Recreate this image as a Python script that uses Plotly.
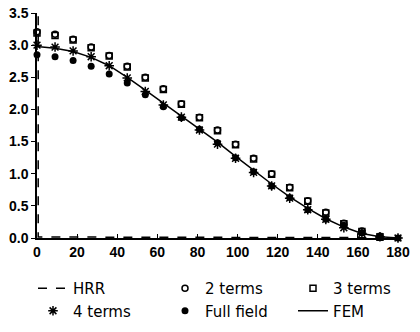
import plotly.graph_objects as go

# ---- data ----
angles = [0, 9, 18, 27, 36, 45, 54, 63, 72, 81, 90, 99, 108, 117, 126, 135, 144, 153, 162, 171, 180]

full_field = [2.85, 2.82, 2.76, 2.67, 2.55, 2.41, 2.23, 2.04, 1.87, 1.69, 1.48, 1.25,
              1.03, 0.81, 0.63, 0.44, 0.29, 0.20, 0.08, 0.03, 0.00]
fem = [2.98, 2.95, 2.90, 2.81, 2.68, 2.50, 2.30, 2.10, 1.90, 1.70, 1.49, 1.27,
       1.05, 0.84, 0.64, 0.46, 0.30, 0.17, 0.07, 0.02, 0.00]
four_terms = [3.00, 2.97, 2.91, 2.82, 2.68, 2.49, 2.28, 2.07, 1.88, 1.68, 1.46, 1.24,
              1.02, 0.81, 0.62, 0.44, 0.29, 0.16, 0.07, 0.02, 0.00]

open_angles = angles[:-1]
two_terms = [3.21, 3.17, 3.09, 2.97, 2.84, 2.67, 2.50, 2.32, 2.09, 1.88, 1.68, 1.46,
             1.24, 1.00, 0.79, 0.58, 0.40, 0.23, 0.11, 0.01]
three_terms = [3.19, 3.15, 3.08, 2.96, 2.83, 2.66, 2.49, 2.31, 2.08, 1.87, 1.67, 1.45,
               1.23, 0.99, 0.78, 0.57, 0.39, 0.22, 0.10, 0.01]

hrr_x = [0.6, 0.6, 10, 170]
hrr_y = [3.45, 0.015, 0.015, 0.005]

x_ticks = [0, 20, 40, 60, 80, 100, 120, 140, 160, 180]
y_ticks = [0.0, 0.5, 1.0, 1.5, 2.0, 2.5, 3.0, 3.5]
y_tick_text = ["0.0", "0.5", "1.0", "1.5", "2.0", "2.5", "3.0", "3.5"]

fig = go.Figure()
fig.add_trace(go.Scatter(x=hrr_x, y=hrr_y, mode="lines", name="HRR", legend="legend",
                         legendgroup="a", line=dict(color="black", width=1.5, dash="dash"),
                         cliponaxis=False))
fig.add_trace(go.Scatter(x=open_angles, y=two_terms, mode="markers", name="2 terms", legend="legend2",
                         legendgroup="b",
                         marker=dict(symbol="circle-open", size=6, color="black", line=dict(width=1.5)),
                         cliponaxis=False))
fig.add_trace(go.Scatter(x=open_angles, y=three_terms, mode="markers", name="3 terms", legend="legend3",
                         legendgroup="c",
                         marker=dict(symbol="square-open", size=6, color="black", line=dict(width=1.5)),
                         cliponaxis=False))
fig.add_trace(go.Scatter(x=angles, y=four_terms, mode="markers", name="4 terms", legend="legend",
                         legendgroup="d",
                         marker=dict(symbol="asterisk-open", size=8, color="black",
                                     line=dict(width=1.5, color="black")),
                         cliponaxis=False))
fig.add_trace(go.Scatter(x=angles, y=full_field, mode="markers", name="Full field", legend="legend2",
                         legendgroup="e",
                         marker=dict(symbol="circle", size=7, color="black"), cliponaxis=False))
fig.add_trace(go.Scatter(x=angles, y=fem, mode="lines", name="FEM", legend="legend3",
                         legendgroup="f",
                         line=dict(color="black", width=1.5), cliponaxis=False))

plot_l, plot_r, plot_t, plot_b = 37, 398, 13, 238
pw, ph = plot_r - plot_l, plot_b - plot_t


def px_x(p):
    return (p - plot_l) / pw


def px_y(p):
    return (plot_b - p) / ph


leg_common = dict(orientation="v", yanchor="top", xanchor="left", itemwidth=30,
                  tracegroupgap=0, bgcolor="rgba(0,0,0,0)",
                  font=dict(family="DejaVu Sans", size=15, color="black"))

fig.update_layout(
    width=420, height=332,
    margin=dict(l=plot_l, r=420 - plot_r, t=plot_t, b=332 - plot_b, autoexpand=False),
    plot_bgcolor="white", paper_bgcolor="white",
    showlegend=True,
    legend=dict(x=px_x(33), y=px_y(272), **leg_common),
    legend2=dict(x=px_x(165), y=px_y(272), **leg_common),
    legend3=dict(x=px_x(293), y=px_y(272), **leg_common),
    font=dict(family="Liberation Sans", color="black"),
)
fig.update_xaxes(range=[0, 180], tickvals=x_ticks, showline=True, linecolor="black", linewidth=1.5,
                 ticks="inside", ticklen=4, tickcolor="black", showgrid=False, zeroline=False,
                 tickfont=dict(family="Liberation Sans", size=14, color="black", weight="bold"))
fig.update_yaxes(range=[0, 3.5], tickvals=y_ticks, ticktext=y_tick_text, showline=True, linecolor="black",
                 linewidth=1.5, ticks="outside", ticklen=4, tickcolor="black", showgrid=False, zeroline=False,
                 tickfont=dict(family="Liberation Sans", size=14, color="black", weight="bold"))

fig.write_html("out.html")
